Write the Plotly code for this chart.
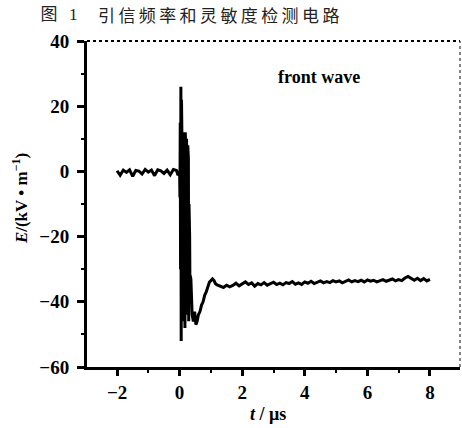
import plotly.graph_objects as go

# ---- data ----
pre_t = [-2.0, -1.9, -1.8, -1.7, -1.6, -1.5, -1.4, -1.3, -1.2, -1.1,
         -1.0, -0.9, -0.8, -0.7, -0.6, -0.5, -0.4, -0.3, -0.2, -0.1, -0.05]
pre_v = [0.2, -1.2, 0.4, -0.3, 0.5, -1.5, 0.3, 0.1, -0.8, 0.6,
         -0.2, 0.4, -1.3, 0.5, 0.2, -0.6, 0.4, -1.0, 0.6, 0.3, -1.2]

burst_t = [0.00, 0.01, 0.02, 0.03, 0.04, 0.05, 0.06, 0.07, 0.08, 0.09,
           0.10, 0.11, 0.12, 0.13, 0.14, 0.15, 0.16, 0.17, 0.18, 0.19,
           0.20, 0.21, 0.22, 0.23, 0.24, 0.25, 0.26, 0.27, 0.28, 0.29,
           0.30, 0.31, 0.32, 0.33, 0.34]
burst_v = [0, -8, 15, -30, 26, -52, 22, -50, 5, -46,
           12, -44, 8, -45, 11, -42, 2, -48, 12, -40,
           6, -43, 10, -38, 0, -44, 8, -41, 4, -46,
           -10, -40, -20, -36, -32]

rec_t = [0.36, 0.40, 0.44, 0.48, 0.52, 0.56, 0.60, 0.65, 0.70, 0.75,
         0.80, 0.85, 0.90, 0.95, 1.00, 1.05, 1.10, 1.15]
rec_v = [-33, -44, -46, -43, -47, -46, -44, -43, -41, -40,
         -38, -37, -35.5, -34, -33.5, -33, -33.5, -34.5]

plat_t = [1.2, 1.3, 1.4, 1.5, 1.6, 1.7, 1.8, 1.9, 2.0, 2.1,
          2.2, 2.3, 2.4, 2.5, 2.6, 2.7, 2.8, 2.9, 3.0, 3.1,
          3.2, 3.3, 3.4, 3.5, 3.6, 3.7, 3.8, 3.9, 4.0, 4.1,
          4.2, 4.3, 4.4, 4.5, 4.6, 4.7, 4.8, 4.9, 5.0, 5.1,
          5.2, 5.3, 5.4, 5.5, 5.6, 5.7, 5.8, 5.9, 6.0, 6.1,
          6.2, 6.3, 6.4, 6.5, 6.6, 6.7, 6.8, 6.9, 7.0, 7.1,
          7.2, 7.3, 7.4, 7.5, 7.6, 7.7, 7.8, 7.9, 8.0]
plat_v = [-34.8, -35.2, -35.6, -34.9, -35.4, -35.0, -34.3, -35.1, -34.6, -33.9,
          -34.7, -34.2, -35.2, -34.4, -34.8, -34.1, -34.9, -34.5, -34.0, -34.7,
          -34.3, -34.8, -34.1, -34.4, -33.8, -34.6, -34.2, -34.7, -33.9, -34.3,
          -33.7, -34.4, -34.0, -33.6, -34.2, -33.8, -34.1, -33.5, -33.9, -33.6,
          -34.2, -33.7, -33.3, -33.9, -33.5, -33.8, -33.4, -33.9, -33.3, -33.7,
          -33.4, -33.9, -33.5, -33.2, -33.7, -33.4, -33.0, -33.6, -33.2, -33.5,
          -32.7, -32.2, -32.9, -33.4, -32.8, -33.5, -32.9, -33.6, -33.1]

x_ticks = [-2, 0, 2, 4, 6, 8]
y_ticks = [-60, -40, -20, 0, 20, 40]

t_all = pre_t + burst_t + rec_t + plat_t
v_all = pre_v + burst_v + rec_v + plat_v

SERIF = "Liberation Serif, Times New Roman, serif"
CJK = "Noto Sans CJK SC"
tickfont = dict(family=SERIF, size=19, color="black", weight="bold")


def lab(v):
    return ("\u2212" + str(-v)) if v < 0 else str(v)


fig = go.Figure()
fig.add_trace(go.Scatter(x=t_all, y=v_all, mode="lines",
                         line=dict(color="black", width=3),
                         showlegend=False, hoverinfo="skip"))

fig.update_layout(
    width=462, height=428,
    margin=dict(l=87, r=2, t=41, b=61),
    paper_bgcolor="white", plot_bgcolor="white",
    title=dict(text="图", xref="container", yref="container",
               x=49 / 462, xanchor="center", y=1 - 14 / 428, yanchor="middle",
               font=dict(family=CJK, size=17, color="#222222")),
)
fig.update_xaxes(
    range=[-2.96, 8.96], tickvals=x_ticks, ticktext=[lab(v) for v in x_ticks],
    showgrid=False, zeroline=False,
    showline=True, linecolor="black", linewidth=3,
    ticks="outside", ticklen=6, tickwidth=3, tickcolor="black",
    minor=dict(dtick=1, tick0=-3, ticks="outside", ticklen=3, tickwidth=2, tickcolor="black"),
    tickfont=tickfont,
)
fig.update_yaxes(
    range=[-60, 40], tickvals=y_ticks, ticktext=[lab(v) for v in y_ticks],
    showgrid=False, zeroline=False,
    showline=True, linecolor="black", linewidth=3,
    ticks="outside", ticklen=7, tickwidth=3, tickcolor="black",
    minor=dict(dtick=10, tick0=-60, ticks="outside", ticklen=3, tickwidth=2, tickcolor="black"),
    tickfont=tickfont, ticklabelstandoff=4,
)

# thin top and right frame lines
fig.add_shape(type="line", xref="paper", yref="paper", x0=0, x1=1, y0=1, y1=1,
              line=dict(color="black", width=2, dash="dot"))
fig.add_shape(type="line", xref="paper", yref="paper", x0=1, x1=1, y0=0, y1=1,
              line=dict(color="#333333", width=1.2, dash="dot"))

# caption continuation ("1" and the title text)
fig.add_annotation(xref="paper", yref="paper", x=0, xshift=-14, y=1.0, yshift=27,
                   xanchor="center", yanchor="middle", showarrow=False,
                   text="1", font=dict(family="Liberation Serif", size=17, color="#222222"))
fig.add_annotation(xref="paper", yref="paper", x=0, xshift=9, y=1.0, yshift=27,
                   xanchor="left", yanchor="middle", showarrow=False,
                   text="引\u2009信\u2009频\u2009率\u2009和\u2009灵\u2009敏\u2009度\u2009检\u2009测\u2009电\u2009路",
                   font=dict(family=CJK, size=17, color="#222222"))

fig.add_annotation(xref="paper", yref="paper", x=0.508, y=0.89,
                   xanchor="left", yanchor="middle", showarrow=False,
                   text="front wave",
                   font=dict(family=SERIF, size=18, color="black", weight="bold"))

fig.add_annotation(xref="paper", yref="paper", x=0.485, y=0, yshift=-47,
                   xanchor="center", yanchor="middle", showarrow=False,
                   text="<i>t</i> / μs",
                   font=dict(family=SERIF, size=18, color="black", weight="bold"))

fig.add_annotation(xref="paper", yref="paper", x=0, xshift=-67, y=0.515,
                   xanchor="center", yanchor="middle", showarrow=False, textangle=-90,
                   text="<i>E</i>/(kV • m<sup>−1</sup>)",
                   font=dict(family=SERIF, size=17, color="black", weight="bold"))

fig.write_html("out.html")
